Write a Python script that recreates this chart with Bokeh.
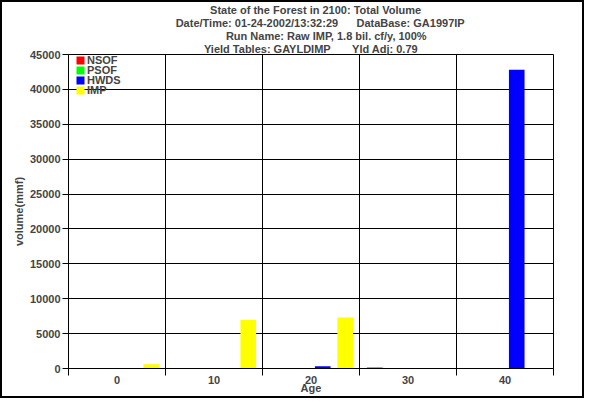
from bokeh.plotting import figure
from bokeh.models import FixedTicker, Title, Legend, LegendItem
from bokeh.transform import dodge
from bokeh.models import ColumnDataSource
from bokeh.embed import file_html
from bokeh.resources import INLINE

# ---- data ----
ages = ["0", "10", "20", "30", "40"]
series = ["NSOF", "PSOF", "HWDS", "IMP"]
colors = ["#FF0000", "#00FF00", "#0000FF", "#FFFF00"]
nsof = [0, 0, 0, 150, 0]
psof = [0, 0, 0, 0, 0]
hwds = [0, 0, 330, 0, 42800]
imp = [600, 7000, 7300, 0, 0]
y_ticks = [0, 5000, 10000, 15000, 20000, 25000, 30000, 35000, 40000, 45000]
NB = "\u00a0"
title_lines = [
    NB * 3 + "State of the Forest in 2100: Total Volume",
    NB * 6 + "Date/Time: 01-24-2002/13:32:29" + NB * 6 + "DataBase: GA1997IP",
    NB * 10 + "Run Name: Raw IMP, 1.8 bil. cf/y, 100%",
    "Yield Tables: GAYLDIMP" + NB * 7 + "Yld Adj: 0.79",
]

FONT = "Liberation Sans"
FS = "11px"

idx = list(range(len(ages)))
src = ColumnDataSource(dict(idx=idx, NSOF=nsof, PSOF=psof, HWDS=hwds, IMP=imp))

p = figure(width=584, height=398, output_backend="svg", toolbar_location=None,
           x_range=(0, len(ages)), y_range=(0, 45000),
           min_border_left=66, min_border_right=33, min_border_top=49, min_border_bottom=32)
p.styles = {"border": "2px solid black"}
p.title.visible = False

offsets = [0.157, 0.389, 0.621, 0.853]
# one single-item legend per series, stacked with a tight 10px pitch
LEG_TOP_Y = 302
LEG_STEP = 10
for i, (s, c, off) in enumerate(zip(series, colors, offsets)):
    r = p.vbar(x=dodge("idx", off, range=p.x_range), top=s, width=0.161, bottom=0,
               source=src, fill_color=c, line_color=None)
    lg = Legend(items=[LegendItem(label=s, renderers=[r])],
                location=(7, LEG_TOP_Y - i * LEG_STEP), margin=0, padding=0,
                spacing=0, glyph_width=10, glyph_height=10, label_height=8,
                label_standoff=2, background_fill_alpha=0, border_line_alpha=0,
                label_text_font=FONT, label_text_font_size=FS,
                label_text_font_style="bold")
    p.add_layout(lg)

# x axis: labels at category centres, tick marks/grid at boundaries
xt = FixedTicker(ticks=[i + 0.5 for i in idx], minor_ticks=list(range(len(ages) + 1)))
p.xaxis.ticker = xt
p.xaxis.major_label_overrides = {i + 0.5: a for i, a in zip(idx, ages)}
p.xaxis.major_tick_line_alpha = 0
p.xaxis.major_tick_out = 0
p.xaxis.minor_tick_out = 7
p.xaxis.minor_tick_in = 0
p.xaxis.major_label_standoff = 0
p.xaxis.axis_label = "Age"
p.xaxis.axis_label_standoff = -5
p.xgrid.grid_line_alpha = 0
p.xgrid.minor_grid_line_color = "black"

p.yaxis.ticker = FixedTicker(ticks=y_ticks)
p.yaxis.minor_tick_line_alpha = 0
p.yaxis.major_tick_out = 6
p.yaxis.major_tick_in = 0
p.yaxis.major_label_standoff = 2
p.yaxis.axis_label = "volume(mmf)"
p.yaxis.axis_label_standoff = 2
p.ygrid.grid_line_color = "black"

for ax in (p.xaxis[0], p.yaxis[0]):
    ax.axis_line_color = "black"
    ax.major_label_text_font = FONT
    ax.major_label_text_font_size = FS
    ax.major_label_text_font_style = "bold"
    ax.axis_label_text_font = FONT
    ax.axis_label_text_font_size = FS
    ax.axis_label_text_font_style = "bold"
    ax.major_tick_line_color = "black"
    ax.minor_tick_line_color = "black"

p.outline_line_color = "black"
p.background_fill_color = "white"
p.border_fill_color = "white"

for line in reversed(title_lines):
    t = Title(text=line, align="center", text_font=FONT, text_font_size=FS,
              text_font_style="bold", standoff=-1)
    p.add_layout(t, "above")

open("out.html", "w").write(file_html(p, INLINE))
